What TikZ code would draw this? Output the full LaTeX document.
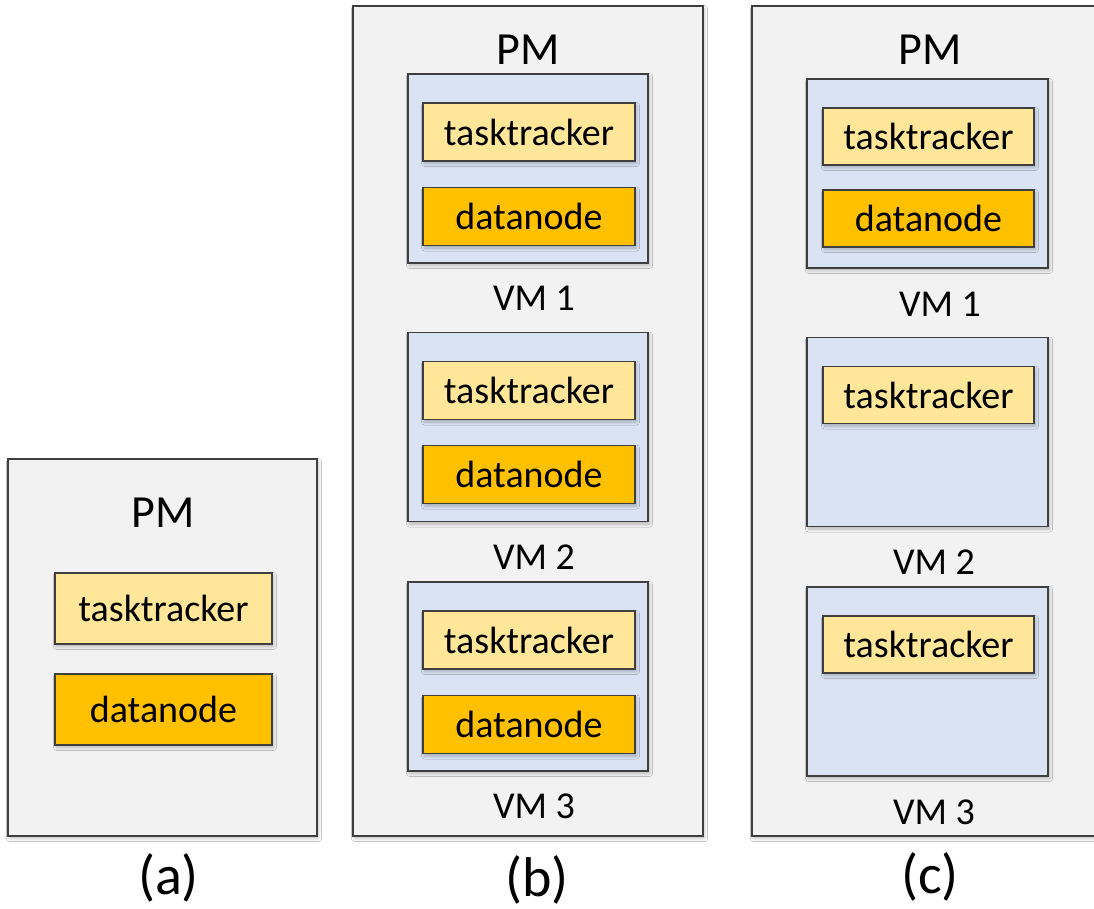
\documentclass[tikz,border=0pt]{standalone}
\usepackage{fontspec}
\setmainfont{Carlito}
\usetikzlibrary{shadows.blur}

\definecolor{edgegray}{HTML}{3F3F3F}
\definecolor{pmfill}{HTML}{F2F2F2}
\definecolor{vmfill}{HTML}{DAE3F3}
\definecolor{ttfill}{HTML}{FFE699}
\definecolor{dnfill}{HTML}{FFC000}

\tikzset{
  boxshadow/.style={blur shadow={shadow xshift=1.5pt, shadow yshift=-2.5pt,
      shadow blur radius=3pt, shadow opacity=25, shadow blur steps=6}},
  box/.style={rectangle, draw=edgegray, line width=1.3pt, inner sep=0pt, outer sep=0pt},
  pmbox/.style={box, fill=pmfill, boxshadow},
  vmbox/.style={box, fill=vmfill, boxshadow},
  ttbox/.style={box, fill=ttfill, boxshadow, font=\fontsize{38}{42}\selectfont},
  dnbox/.style={box, fill=dnfill, boxshadow, font=\fontsize{38}{42}\selectfont},
  pmlabel/.style={inner sep=0pt, font=\fontsize{46}{50}\selectfont},
  vmlabel/.style={inner sep=0pt, font=\fontsize{38}{42}\selectfont},
  panellabel/.style={inner sep=0pt, font=\fontsize{56}{62}\selectfont}
}

\begin{document}
\begin{tikzpicture}[x=1pt, y=-1pt]
\useasboundingbox (0,0) rectangle (1094,909);
\clip (0,0) rectangle (1094,909);
\fill[white] (0,0) rectangle (1094,909);

% ---------- (a): bare physical machine ----------
\node[pmbox, minimum width=309pt, minimum height=377pt] (pmA) at (162.5,647.5) {};
\node[pmlabel] (pmAlabel) at (163,513) {PM};
\node[ttbox, minimum width=217pt, minimum height=71pt] (ttA) at (163.5,608.5) {tasktracker};
\node[dnbox, minimum width=217pt, minimum height=71pt] (dnA) at (163.5,709.5) {datanode};
\node[panellabel] (capA) at (168.5,878) {(a)};

% ---------- (b): three VMs, each with tasktracker and datanode ----------
\node[pmbox, minimum width=350pt, minimum height=830pt] (pmB) at (528,421) {};
\node[pmlabel] (pmBlabel) at (528,50) {PM};

\node[vmbox, minimum width=240pt, minimum height=189pt] (vmB1) at (528,168.5) {};
\node[ttbox, minimum width=212pt, minimum height=58pt] (ttB1) at (529,132) {tasktracker};
\node[dnbox, minimum width=212pt, minimum height=58pt] (dnB1) at (529,216.5) {datanode};
\node[vmlabel] (vmB1label) at (534,298.5) {VM 1};

\node[vmbox, minimum width=240pt, minimum height=189pt] (vmB2) at (528,427) {};
\node[ttbox, minimum width=212pt, minimum height=58pt] (ttB2) at (529,390.5) {tasktracker};
\node[dnbox, minimum width=212pt, minimum height=58pt] (dnB2) at (529,474.5) {datanode};
\node[vmlabel] (vmB2label) at (534,557.5) {VM 2};

\node[vmbox, minimum width=240pt, minimum height=189pt] (vmB3) at (528,676.5) {};
\node[ttbox, minimum width=212pt, minimum height=58pt] (ttB3) at (529,640) {tasktracker};
\node[dnbox, minimum width=212pt, minimum height=58pt] (dnB3) at (529,724.5) {datanode};
\node[vmlabel] (vmB3label) at (534,806) {VM 3};

\node[panellabel] (capB) at (537,880) {(b)};

% ---------- (c): datanode only in the first VM ----------
\node[pmbox, minimum width=416pt, minimum height=830pt] (pmC) at (960,421) {};
\node[pmlabel] (pmClabel) at (930,50) {PM};

\node[vmbox, minimum width=241pt, minimum height=189pt] (vmC1) at (927.5,173.5) {};
\node[ttbox, minimum width=211pt, minimum height=57pt] (ttC1) at (928.5,136.5) {tasktracker};
\node[dnbox, minimum width=211pt, minimum height=57pt] (dnC1) at (928.5,218.5) {datanode};
\node[vmlabel] (vmC1label) at (940,304) {VM 1};

\node[vmbox, minimum width=241pt, minimum height=189pt] (vmC2) at (927.5,432) {};
\node[ttbox, minimum width=211pt, minimum height=57pt] (ttC2) at (928.5,395) {tasktracker};
\node[vmlabel] (vmC2label) at (934,562) {VM 2};

\node[vmbox, minimum width=241pt, minimum height=189pt] (vmC3) at (927.5,681.5) {};
\node[ttbox, minimum width=211pt, minimum height=57pt] (ttC3) at (928.5,644.5) {tasktracker};
\node[vmlabel] (vmC3label) at (934,812) {VM 3};

\node[panellabel] (capC) at (930,877) {(c)};
\end{tikzpicture}
\end{document}
